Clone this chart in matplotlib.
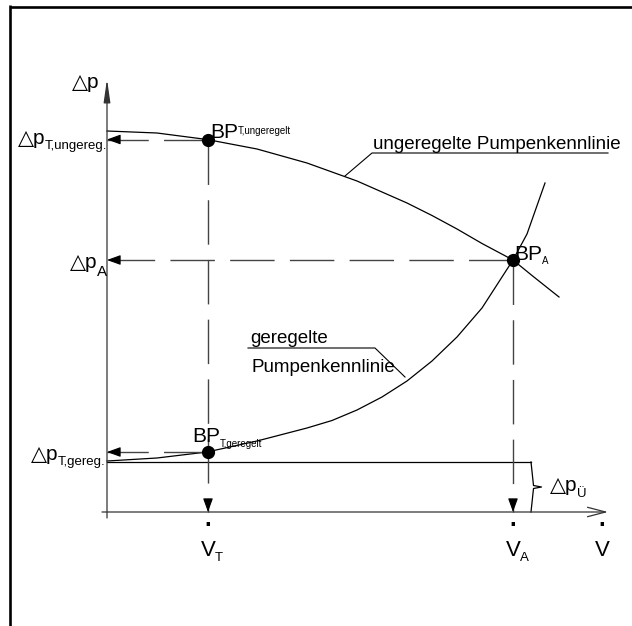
import matplotlib.pyplot as plt

# pump curves: volume flow V and head dp (chart units)
V_unreg = [0, 10, 20, 30, 40, 50, 60, 65, 70, 75, 81.2, 85, 90.4]
dp_unreg = [76.2, 75.8, 74.5, 72.6, 69.8, 66.2, 61.8, 59.3, 56.6, 53.7, 50.4, 47.3, 43.0]
V_reg = [0, 10, 20, 30, 40, 45, 50, 55, 60, 65, 70, 75, 81.2, 84, 87.6]
dp_reg = [10.2, 10.8, 12.0, 14.2, 16.8, 18.3, 20.4, 23.0, 26.2, 30.2, 35.0, 40.8, 50.4, 55.6, 65.8]

# operating points
V_T = 20.2
V_A = 81.2
dp_T_unreg = 74.5
dp_T_reg = 12.0
dp_A = 50.4
dp_ue = 10.0

plt.rcParams['font.family'] = ['Liberation Sans', 'DejaVu Sans']

fig = plt.figure(figsize=(6.32, 6.26), dpi=100)
ax = fig.add_axes([0, 0, 1, 1])
ax.set_xlim(-21.4, 105)
ax.set_ylim(-22.8, 102.4)
ax.axis('off')

# outer frame (top and left edge only)
ax.plot([9.5 / 632, 1], [1 - 6.5 / 626] * 2, transform=ax.transAxes,
        color='black', lw=1.9, solid_capstyle='butt')
ax.plot([9.5 / 632] * 2, [0, 1 - 5.3 / 626], transform=ax.transAxes,
        color='black', lw=1.9, solid_capstyle='butt')

AX_COL = '#333333'
ax.annotate('', xy=(0, 86.6), xytext=(0, -1.2),
            arrowprops=dict(arrowstyle='-|>,head_length=0.7,head_width=0.1',
                            mutation_scale=20, lw=0.9, color=AX_COL,
                            shrinkA=0, shrinkB=0))
ax.annotate('', xy=(100.2, 0), xytext=(-1, 0),
            arrowprops=dict(arrowstyle='->,head_length=0.65,head_width=0.17',
                            mutation_scale=20, lw=0.9, color=AX_COL,
                            shrinkA=0, shrinkB=0))

# pump characteristics
ax.plot(V_unreg, dp_unreg, color='black', lw=0.9)
ax.plot(V_reg, dp_reg, color='black', lw=0.9)

# residual head line and brace
ax.plot([0, 84.8], [dp_ue, dp_ue], color='black', lw=0.9)
ax.plot([84.8, 85.3, 86.9, 85.3, 84.8],
        [dp_ue, dp_ue / 2 + 0.3, dp_ue / 2, dp_ue / 2 - 0.3, 0],
        color='black', lw=0.9)

DASH_COL = '#444444'


def guide(x0, y0, x1, y1):
    ax.plot([x0, x1], [y0, y1], color=DASH_COL, lw=1.0, dashes=(32, 11))
    dx = 0 if x0 == x1 else (2.5 if x0 > x1 else -2.5)
    dy = 0 if y0 == y1 else (2.5 if y0 > y1 else -2.5)
    ax.annotate('', xy=(x1, y1), xytext=(x1 + dx, y1 + dy),
                arrowprops=dict(arrowstyle='-|>,head_length=0.55,head_width=0.2',
                                mutation_scale=15, lw=0.8, color='black',
                                shrinkA=0, shrinkB=0))


guide(V_T, dp_T_unreg, 0, dp_T_unreg)
guide(V_A, dp_A, 0, dp_A)
guide(V_T, dp_T_reg, 0, dp_T_reg)
guide(V_T, dp_T_unreg, V_T, 0)
guide(V_A, dp_A, V_A, 0)

ax.plot([V_T, V_T, V_A], [dp_T_unreg, dp_T_reg, dp_A], 'o',
        color='black', ms=8.5, zorder=5)

MAIN = 15
SUB = 9.5
NAME = 13.5


def split_label(x, y, main, sub, sub_dy, size=MAIN, sub_size=SUB):
    ax.text(x, y, main, ha='right', va='baseline', fontsize=size)
    ax.text(x, y - sub_dy, sub, ha='left', va='baseline', fontsize=sub_size)


# head labels on the vertical axis
ax.text(-1.6, 84.8, '△p', ha='right', va='baseline', fontsize=MAIN)
split_label(-12.4, dp_T_unreg - 1.0, '△p', 'T,ungereg.', 1.0)
split_label(-2.0, dp_A - 1.6, '△p', 'A', 1.6, sub_size=11)
split_label(-9.8, dp_T_reg - 1.6, '△p', 'T,gereg.', 1.0)
split_label(94.0, 4.2, '△p', 'Ü', 1.2)


# operating point labels
def bp_label(x, y, sub, dx, dy, sub_dy):
    ax.annotate('BP', xy=(x, y), xytext=(dx, dy), textcoords='offset pixels',
                ha='right', va='baseline', fontsize=15)
    ax.annotate(sub, xy=(x, y), xytext=(dx, dy - sub_dy), textcoords='offset pixels',
                ha='left', va='baseline', fontsize=7)


bp_label(V_T, dp_T_unreg, 'T,ungeregelt', 30, 1, -4)
bp_label(V_T, dp_T_reg, 'T,geregelt', 12, 10, 5)
bp_label(V_A, dp_A, 'A', 29, 0, 4)

# flow labels under the horizontal axis
for xv, sub in [(V_T, 'T'), (V_A, 'A'), (99.0, '')]:
    ax.text(xv, -8.8, 'V', ha='center', va='baseline', fontsize=16)
    ax.text(xv, -2.6, '·', ha='center', va='center', fontsize=17, fontweight='bold')
    if sub:
        ax.text(xv + 1.4, -9.8, sub, ha='left', va='baseline', fontsize=SUB)

# curve names with underline leaders
ax.text(53.2, 72.6, 'ungeregelte Pumpenkennlinie', ha='left', va='baseline', fontsize=NAME)
ax.plot([47.6, 53.0, 100.2], [67.2, 71.8, 71.8], color='black', lw=0.8)

ax.text(28.6, 33.8, 'geregelte', ha='left', va='baseline', fontsize=NAME)
ax.text(29.0, 28.0, 'Pumpenkennlinie', ha='left', va='baseline', fontsize=NAME)
ax.plot([28.2, 53.6, 59.6], [32.8, 32.8, 27.0], color='black', lw=0.8)

fig.savefig('out.png', dpi=100)
